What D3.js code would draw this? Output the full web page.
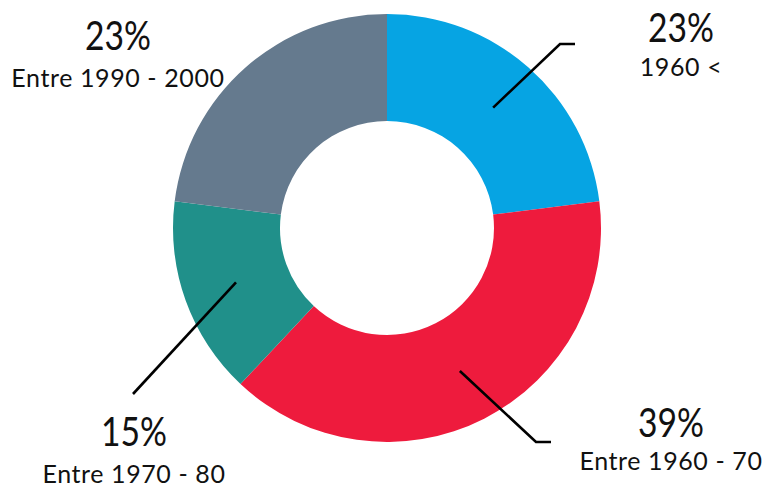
<!DOCTYPE html>
<html>
<head>
<meta charset="utf-8">
<script src="https://cdn.jsdelivr.net/npm/d3@7"></script>
<style>
  html, body { margin: 0; padding: 0; background: #fff; }
  svg text { font-family: Lato, "Open Sans", sans-serif; fill: #111; }
</style>
</head>
<body>
<svg id="chart" width="767" height="489"></svg>
<script>
// Share of buildings by construction period
const categories = ["1960 <", "Entre 1960 - 70", "Entre 1970 - 80", "Entre 1990 - 2000"];
const shares = [23, 39, 15, 23];
const colors = ["#06A4E3", "#EE1B3D", "#20908A", "#657A8E"];

// Label placement: anchor of the text block, subtitle offset, optional leader end + tail
const labelLayout = [
  { x: 681, y: 42, sub: 34, leader: true, end: [560, 44], tail: 15 },
  { x: 671, y: 437, sub: 33, leader: true, end: [536, 442], tail: 15 },
  { x: 134, y: 446, sub: 37, leader: true, end: [133, 394], tail: 0 },
  { x: 118, y: 50, sub: 37, leader: false }
];

const svg = d3.select("#chart");
const cx = 387, cy = 228, rOuter = 214, rInner = 107;

const pie = d3.pie().sort(null).value(d => d.value);
const arcs = pie(categories.map((c, i) => ({ name: c, value: shares[i], color: colors[i] })));
const arc = d3.arc().innerRadius(rInner).outerRadius(rOuter);
const mid = d3.arc().innerRadius((rInner + rOuter) / 2).outerRadius((rInner + rOuter) / 2);

const g = svg.append("g").attr("transform", `translate(${cx},${cy})`);
g.selectAll("path.slice")
  .data(arcs)
  .join("path")
  .attr("class", "slice")
  .attr("d", arc)
  .attr("fill", d => d.data.color);

// Leader lines from the middle of each ring segment out to its label
arcs.forEach((a, i) => {
  const L = labelLayout[i];
  if (!L.leader) return;
  const [sx, sy] = mid.centroid(a);
  const ex = L.end[0] - cx, ey = L.end[1] - cy;
  const pts = [[sx, sy], [ex, ey]];
  if (L.tail) pts.push([ex + L.tail, ey]);
  g.append("path")
    .attr("d", d3.line()(pts))
    .attr("fill", "none")
    .attr("stroke", "#000")
    .attr("stroke-width", 2.6);
});

// Percentage and category labels
const labels = svg.selectAll("g.label")
  .data(arcs)
  .join("g")
  .attr("class", "label")
  .attr("transform", (d, i) => `translate(${labelLayout[i].x},${labelLayout[i].y})`);

labels.append("text")
  .attr("text-anchor", "middle")
  .attr("font-size", 41)
  .attr("textLength", 66)
  .attr("lengthAdjust", "spacingAndGlyphs")
  .text(d => `${d.data.value}%`);

labels.append("text")
  .attr("text-anchor", "middle")
  .attr("y", (d, i) => labelLayout[i].sub)
  .attr("font-size", 25)
  .attr("letter-spacing", 0.6)
  .text(d => d.data.name);
</script>
</body>
</html>
